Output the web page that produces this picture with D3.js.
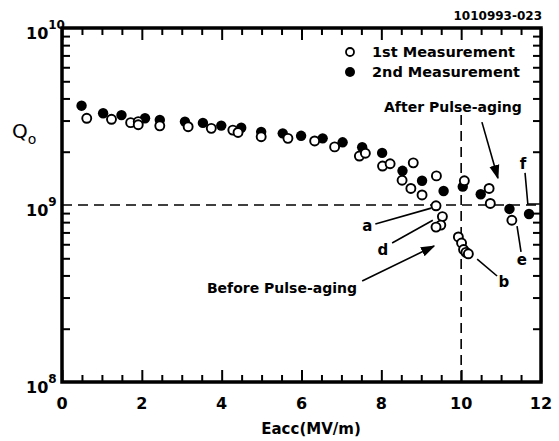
<!DOCTYPE html>
<html>
<head>
<meta charset="utf-8">
<script src="https://cdn.jsdelivr.net/npm/d3@7"></script>
<style>
  html, body { margin: 0; padding: 0; background: #fff; }
  svg { display: block; }
  text { font-family: "DejaVu Sans", sans-serif; font-weight: bold; fill: #000; }
</style>
</head>
<body>
<div id="root"></div>
<script>
// 1st measurement (open circles): Eacc in MV/m, Q0
const firstE = [0.62, 1.24, 1.72, 1.91, 1.91, 2.45, 3.16, 3.74, 4.28, 4.41, 4.99, 5.66, 6.33, 6.83,
  7.45, 7.60, 8.03, 8.22, 8.80, 8.52, 8.74, 9.38, 9.02, 9.37, 9.53, 9.49, 9.37,
  10.08, 9.93, 10.01, 10.06, 10.12, 10.18, 10.70, 10.73, 11.27];
const firstQ = [3.09e9, 3.05e9, 2.92e9, 2.96e9, 2.84e9, 2.80e9, 2.77e9, 2.71e9, 2.65e9, 2.57e9, 2.43e9, 2.38e9, 2.30e9, 2.13e9,
  1.89e9, 1.96e9, 1.66e9, 1.71e9, 1.73e9, 1.38e9, 1.24e9, 1.46e9, 1.14e9, 0.99e9, 0.86e9, 0.77e9, 0.75e9,
  1.37e9, 0.66e9, 0.61e9, 0.56e9, 0.54e9, 0.53e9, 1.24e9, 1.02e9, 0.82e9];

// 2nd measurement (filled circles)
const secondE = [0.49, 1.03, 1.49, 2.08, 2.45, 3.08, 3.53, 3.99, 4.49, 4.99, 5.53, 5.99, 6.53, 7.03,
  7.52, 8.02, 8.53, 9.02, 9.56, 10.04, 10.49, 11.21, 11.70];
const secondQ = [3.64e9, 3.30e9, 3.22e9, 3.09e9, 3.02e9, 2.96e9, 2.91e9, 2.81e9, 2.73e9, 2.59e9, 2.54e9, 2.46e9, 2.38e9, 2.26e9,
  2.12e9, 1.97e9, 1.56e9, 1.37e9, 1.20e9, 1.27e9, 1.15e9, 0.95e9, 0.89e9];

const xMajor = [0, 2, 4, 6, 8, 10, 12];
const yExponents = [10, 9, 8];

const width = 559, height = 441;

const svg = d3.select("#root").append("svg")
    .attr("width", width)
    .attr("height", height);

const x = d3.scaleLinear().domain([0, 12]).range([62, 541]);
const y = d3.scaleLog().domain([1e8, 1e10]).range([382, 28]);

const xMinor = d3.range(0.5, 12, 0.5).filter(v => v % 2 !== 0);
const yMinor = [];
[1e8, 1e9].forEach(b => { for (let k = 2; k <= 9; k++) yMinor.push(b * k); });

// ticks (all pointing inward)
svg.append("g").attr("transform", `translate(0,${y(1e8)})`)
    .call(d3.axisBottom(x).tickValues(xMajor).tickSize(-12).tickFormat(""));
svg.append("g").attr("transform", `translate(0,${y(1e8)})`)
    .call(d3.axisBottom(x).tickValues(xMinor).tickSize(-7).tickFormat(""));
svg.append("g").attr("transform", `translate(0,${y(1e10)})`)
    .call(d3.axisTop(x).tickValues(xMajor).tickSize(-12).tickFormat(""));
svg.append("g").attr("transform", `translate(0,${y(1e10)})`)
    .call(d3.axisTop(x).tickValues(xMinor).tickSize(-7).tickFormat(""));
svg.append("g").attr("transform", `translate(${x(0)},0)`)
    .call(d3.axisLeft(y).tickValues(yMinor).tickSize(-8).tickFormat(""));
svg.append("g").attr("transform", `translate(${x(12)},0)`)
    .call(d3.axisRight(y).tickValues(yMinor).tickSize(-8).tickFormat(""));

svg.selectAll(".domain").remove();
svg.selectAll(".tick line").attr("stroke", "#000").attr("stroke-width", 2);

// frame
svg.append("rect")
    .attr("x", x(0)).attr("y", y(1e10))
    .attr("width", x(12) - x(0)).attr("height", y(1e8) - y(1e10))
    .attr("fill", "none").attr("stroke", "#000").attr("stroke-width", 3.5);

// x tick labels
svg.append("g").selectAll("text").data(xMajor).join("text")
    .attr("x", d => x(d)).attr("y", 409)
    .attr("text-anchor", "middle")
    .style("font-size", "16px")
    .text(d => d);

// y tick labels 10^n
const yl = svg.append("g").selectAll("text").data(yExponents).join("text")
    .attr("x", 26).attr("y", d => y(Math.pow(10, d)) + 11)
    .style("font-size", "16px");
yl.append("tspan").text("10");
yl.append("tspan").attr("dy", -10).style("font-size", "12px").text(d => d);

// axis titles
svg.append("text").attr("x", 311).attr("y", 434)
    .attr("text-anchor", "middle").style("font-size", "15px")
    .text("Eacc(MV/m)");
const qt = svg.append("text").attr("x", 12).attr("y", 138)
    .style("font-size", "20px").style("font-weight", "normal");
qt.append("tspan").text("Q");
qt.append("tspan").attr("dy", 6).style("font-size", "14px").text("o");

svg.append("text").attr("x", 542).attr("y", 20)
    .attr("text-anchor", "end").style("font-size", "12px")
    .text("1010993-023");

// dashed reference lines
svg.append("line")
    .attr("x1", x(0)).attr("x2", x(12)).attr("y1", y(1e9)).attr("y2", y(1e9))
    .attr("stroke", "#000").attr("stroke-width", 1.6).attr("stroke-dasharray", "10,6");
svg.append("line")
    .attr("x1", x(10)).attr("x2", x(10)).attr("y1", y(3.22e9)).attr("y2", y(1e8))
    .attr("stroke", "#000").attr("stroke-width", 1.6).attr("stroke-dasharray", "10,6");

// data points
svg.append("g").selectAll("circle").data(secondE).join("circle")
    .attr("cx", d => x(d)).attr("cy", (d, i) => y(secondQ[i]))
    .attr("r", 5.2).attr("fill", "#000");
svg.append("g").selectAll("circle").data(firstE).join("circle")
    .attr("cx", d => x(d)).attr("cy", (d, i) => y(firstQ[i]))
    .attr("r", 4.5).attr("fill", "#fff").attr("stroke", "#000").attr("stroke-width", 1.9);

// legend
const legend = svg.append("g");
legend.append("circle").attr("cx", 350).attr("cy", 52).attr("r", 4)
    .attr("fill", "#fff").attr("stroke", "#000").attr("stroke-width", 1.8);
legend.append("circle").attr("cx", 350).attr("cy", 72).attr("r", 5).attr("fill", "#000");
legend.append("text").attr("x", 372).attr("y", 57).style("font-size", "14.5px").text("1st  Measurement");
legend.append("text").attr("x", 372).attr("y", 77).style("font-size", "14.5px").text("2nd Measurement");

// annotations (data space)
svg.append("defs").append("marker")
    .attr("id", "arrow").attr("viewBox", "0 0 10 10")
    .attr("refX", 9).attr("refY", 5)
    .attr("markerWidth", 9).attr("markerHeight", 9)
    .attr("orient", "auto-start-reverse")
    .append("path").attr("d", "M0,1.5 L10,5 L0,8.5 Z").attr("fill", "#000");

const leaders = [
  {pts: [[7.85, 0.78e9], [9.25, 0.96e9]]},
  {pts: [[8.27, 0.61e9], [9.29, 0.82e9]]},
  {pts: [[10.40, 0.495e9], [10.90, 0.397e9]]},
  {pts: [[11.40, 0.76e9], [11.50, 0.543e9]]},
  {pts: [[11.60, 1.52e9], [11.67, 1.013e9], [11.97, 1.013e9]]},
  {pts: [[7.52, 0.372e9], [9.32, 0.586e9]], arrow: true},
  {pts: [[10.52, 2.94e9], [10.92, 1.42e9]], arrow: true}
];
const lineGen = d3.line().x(d => x(d[0])).y(d => y(d[1]));
svg.append("g").selectAll("path").data(leaders).join("path")
    .attr("d", d => lineGen(d.pts))
    .attr("fill", "none").attr("stroke", "#000").attr("stroke-width", 1.6)
    .attr("marker-end", d => d.arrow ? "url(#arrow)" : null);

const labels = [
  {t: "a", e: 7.65, q: 0.76e9, anchor: "middle", size: 15},
  {t: "d", e: 8.04, q: 0.557e9, anchor: "middle", size: 15},
  {t: "b", e: 11.07, q: 0.367e9, anchor: "middle", size: 15},
  {t: "e", e: 11.52, q: 0.489e9, anchor: "middle", size: 15},
  {t: "f", e: 11.55, q: 1.706e9, anchor: "middle", size: 15},
  {t: "Before Pulse-aging", e: 7.39, q: 0.34e9, anchor: "end", size: 14},
  {t: "After Pulse-aging", e: 11.52, q: 3.58e9, anchor: "end", size: 14}
];
svg.append("g").selectAll("text").data(labels).join("text")
    .attr("x", d => x(d.e)).attr("y", d => y(d.q))
    .attr("dy", "0.36em")
    .attr("text-anchor", d => d.anchor)
    .style("font-size", d => d.size + "px")
    .text(d => d.t);
</script>
</body>
</html>
